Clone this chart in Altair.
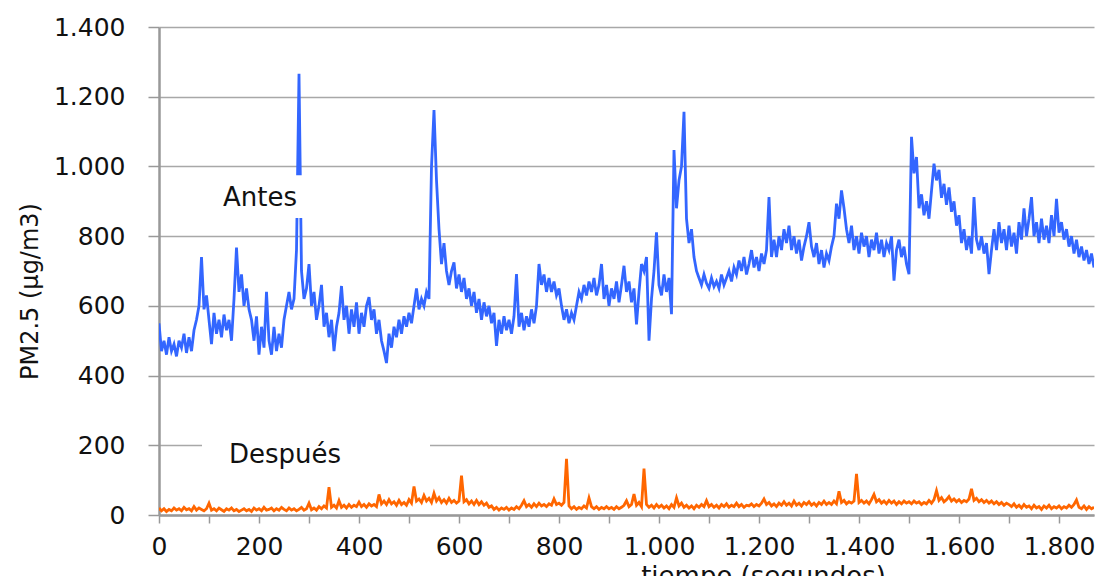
import altair as alt
import pandas as pd

antes = [
    550, 470, 500, 460, 510, 470, 490, 455, 500, 480, 520, 465, 510, 470, 530, 560, 600, 740, 590, 630,
    560, 490, 580, 520, 560, 510, 575, 530, 560, 500, 620, 767, 640, 690, 600, 650, 590, 560, 500, 570,
    460, 540, 480, 640, 500, 460, 540, 470, 520, 480, 560, 600, 640, 590, 620, 760, 1266, 700, 620, 650,
    720, 600, 640, 560, 600, 660, 540, 580, 510, 560, 470, 540, 580, 657, 560, 600, 520, 590, 540, 610,
    520, 580, 540, 600, 625, 560, 590, 520, 560, 500, 470, 436, 520, 480, 540, 510, 560, 520, 570, 540,
    580, 550, 600, 650, 590, 620, 600, 640, 620, 1000, 1162, 960, 820, 720, 780, 700, 660, 700, 725, 650,
    690, 640, 680, 620, 650, 600, 640, 580, 620, 560, 610, 570, 600, 550, 580, 485, 560, 520, 570, 530,
    560, 520, 570, 691, 540, 580, 530, 570, 540, 590, 550, 600, 720, 660, 690, 640, 680, 640, 670, 630,
    650, 600, 560, 590, 550, 580, 560, 600, 640, 620, 660, 630, 670, 640, 680, 630, 660, 720, 620, 660,
    600, 650, 620, 670, 610, 660, 715, 640, 670, 610, 650, 547, 640, 720, 700, 740, 500, 620, 700, 811,
    660, 630, 690, 640, 680, 576, 1047, 880, 960, 1000, 1157, 850, 780, 820, 740, 700, 680, 660, 690, 665,
    650, 680, 655, 670, 650, 690, 660, 680, 700, 670, 710, 690, 730, 700, 740, 690, 720, 760, 710, 740,
    700, 750, 720, 760, 912, 740, 790, 740, 800, 760, 820, 780, 830, 760, 800, 750, 790, 730, 770, 800,
    840, 770, 740, 780, 720, 760, 710, 750, 730, 770, 800, 893, 850, 931, 880, 820, 780, 830, 760, 800,
    750, 810, 770, 800, 740, 790, 760, 810, 750, 790, 740, 780, 760, 800, 672, 760, 790, 740, 770, 720,
    691, 1085, 980, 1027, 880, 920, 860, 900, 850, 930, 1008, 960, 990, 910, 950, 890, 940, 870, 900, 830,
    860, 780, 820, 760, 800, 750, 912, 790, 760, 800, 750, 780, 691, 760, 820, 760, 840, 780, 820, 760,
    830, 770, 810, 750, 840, 790, 880, 800, 850, 912, 800, 840, 780, 850, 790, 830, 780, 860, 800, 907,
    810, 840, 790, 820, 770, 800, 750, 790, 740, 770, 730, 760, 720, 750, 710,
]

# PM2.5 "Después" (orange), sampled every 5 s
despues = [
    20, 12, 18, 10, 16, 12, 20, 14, 18, 12, 22, 15, 18, 12, 24, 14, 20, 16, 12, 18,
    34, 14, 18, 12, 20, 15, 10, 18, 14, 20, 12, 16, 10, 14, 18, 12, 16, 10, 20, 14,
    18, 12, 22, 14, 16, 20, 12, 18, 14, 22, 16, 12, 20, 14, 18, 12, 16, 22, 14, 18,
    34, 15, 20, 14, 24, 18, 26, 20, 80, 22, 28, 20, 41, 22, 28, 20, 30, 22, 28, 24,
    37, 24, 30, 22, 32, 26, 30, 24, 59, 32, 40, 30, 44, 32, 38, 28, 42, 30, 36, 28,
    44, 34, 82, 40, 46, 36, 56, 40, 48, 36, 62, 40, 50, 36, 44, 34, 48, 36, 42, 34,
    40, 113, 38, 44, 32, 40, 30, 42, 30, 38, 28, 34, 22, 26, 16, 22, 14, 20, 16, 22,
    14, 20, 16, 24, 18, 28, 41, 24, 30, 22, 32, 24, 34, 26, 30, 24, 32, 28, 46, 30,
    34, 28, 36, 161, 26, 18, 24, 16, 22, 18, 26, 20, 49, 24, 18, 24, 16, 22, 18, 24,
    18, 22, 16, 24, 18, 22, 28, 41, 24, 30, 60, 28, 36, 24, 133, 30, 22, 28, 20, 30,
    22, 28, 20, 26, 18, 30, 22, 49, 26, 34, 22, 28, 20, 26, 18, 28, 22, 30, 24, 41,
    24, 30, 22, 28, 20, 30, 24, 32, 22, 28, 24, 34, 24, 30, 22, 28, 26, 32, 24, 30,
    26, 34, 46, 30, 36, 26, 32, 24, 34, 28, 38, 28, 34, 26, 40, 28, 34, 26, 36, 30,
    38, 28, 34, 26, 36, 30, 40, 30, 36, 30, 40, 32, 68, 36, 42, 32, 38, 34, 40, 118,
    36, 42, 34, 40, 32, 44, 59, 38, 44, 34, 40, 32, 42, 34, 40, 30, 38, 32, 40, 34,
    38, 32, 40, 34, 38, 30, 36, 32, 42, 34, 44, 70, 42, 50, 38, 44, 53, 40, 46, 38,
    44, 36, 42, 38, 46, 75, 42, 48, 38, 44, 36, 42, 34, 40, 32, 38, 30, 36, 28, 34,
    30, 24, 32, 22, 28, 20, 30, 22, 26, 18, 28, 20, 24, 16, 26, 20, 28, 18, 24, 20,
    26, 18, 24, 20, 28, 22, 30, 43, 22, 18, 26, 16, 24, 18, 22,
]

step = 5
x_ticks = [0, 100, 200, 300, 400, 500, 600, 700, 800, 900, 1000, 1100, 1200, 1300, 1400, 1500, 1600, 1700, 1800]
y_ticks = [0, 200, 400, 600, 800, 1000, 1200, 1400]
x_domain = [0, 1870]
y_domain = [0, 1400]

label_text = ["Antes", "Después"]
label_t = [202, 252]
label_v = [909, 172]
box_t1 = [78, 86]
box_t2 = [292, 542]
box_v1 = [852, 100]
box_v2 = [975, 244]

BLUE = "#3366ff"
ORANGE = "#ff6600"
FONT = "DejaVu Sans"

df = pd.DataFrame({
    "t": [i * step for i in range(len(antes))] + [i * step for i in range(len(despues))],
    "v": antes + despues,
    "serie": ["Antes"] * len(antes) + ["Después"] * len(despues),
})
labels = pd.DataFrame({"text": label_text, "t": label_t, "v": label_v})
boxes = pd.DataFrame({"t1": box_t1, "t2": box_t2, "v1": box_v1, "v2": box_v2})

xscale = alt.Scale(domain=x_domain, nice=False, zero=False)
yscale = alt.Scale(domain=y_domain, nice=False)

x_axis = alt.Axis(
    values=x_ticks,
    labelExpr="datum.value % 200 == 0 ? replace(format(datum.value, ','), ',', '.') : ''",
    title="tiempo (segundos)",
    titleFont=FONT, titleFontSize=26, titleFontWeight="normal", titleColor="#111",
    titleX=604, titleY=48, titleAnchor="start", titleAlign="center", titleBaseline="top",
    labelFont=FONT, labelFontSize=25, labelColor="#111", labelPadding=11,
    labelOverlap=False, labelFlush=False,
    tickSize=8, tickColor="#999", tickWidth=1.5,
    domainColor="#999", domainWidth=2.5, grid=False,
)
y_axis = alt.Axis(
    values=y_ticks,
    labelExpr="replace(format(datum.value, ','), ',', '.')",
    title="PM2.5 (µg/m3)",
    titleFont=FONT, titleFontSize=24, titleFontWeight="normal", titleColor="#111",
    titleX=-129, titleY=264, titleAngle=-90, titleAlign="center", titleBaseline="middle",
    labelFont=FONT, labelFontSize=25, labelColor="#111", labelPadding=23,
    tickSize=11, tickColor="#999", tickWidth=1.5,
    domainColor="#999", domainWidth=2.5,
    grid=True, gridColor="#a8a8a8", gridWidth=1.6,
)

lines = alt.Chart(df).mark_line(strokeWidth=2.8, clip=True).encode(
    x=alt.X("t:Q", scale=xscale, axis=x_axis),
    y=alt.Y("v:Q", scale=yscale, axis=y_axis),
    color=alt.Color("serie:N", scale=alt.Scale(domain=["Antes", "Después"], range=[BLUE, ORANGE]), legend=None),
    detail="serie:N",
)

rects = alt.Chart(boxes).mark_rect(color="white").encode(
    x=alt.X("t1:Q", scale=xscale), x2="t2:Q",
    y=alt.Y("v1:Q", scale=yscale), y2="v2:Q",
)

texts = alt.Chart(labels).mark_text(font=FONT, fontSize=26, color="#111", align="center", baseline="middle").encode(
    x=alt.X("t:Q", scale=xscale),
    y=alt.Y("v:Q", scale=yscale),
    text="text:N",
)

chart = alt.layer(lines, rects, texts).properties(
    width=935, height=488,
    autosize=alt.AutoSizeParams(type="none"),
    padding={"left": 151, "top": 19, "right": 1, "bottom": 61},
    background="white",
).configure_view(stroke=None)

chart.save("out.html", embed_options={"renderer": "svg", "actions": False})
